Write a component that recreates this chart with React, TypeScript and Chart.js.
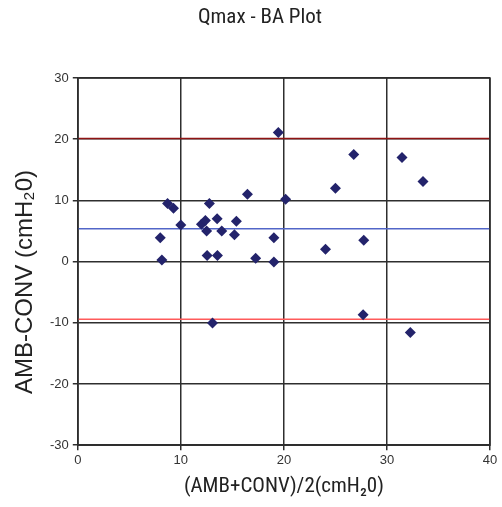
import React, { useEffect, useRef } from "react";
import { Chart, registerables } from "chart.js";

Chart.register(...registerables);

const meanValues = [19.46, 26.78, 31.46, 33.5, 25.0, 16.46, 20.17, 8.71, 9.29, 12.77, 10.0, 12.0, 12.38, 12.5, 13.52, 13.97, 15.39, 15.2, 8.0, 19.03, 8.16, 12.55, 13.55, 17.26, 19.03, 24.04, 27.75, 27.69, 13.07, 32.27];
const diffValues = [21.1, 17.5, 17.0, 13.1, 12.0, 11.0, 10.2, 9.5, 8.7, 9.5, 6.0, 6.1, 6.7, 5.0, 7.0, 5.0, 6.6, 4.4, 3.9, 3.9, 0.25, 1.0, 1.0, 0.55, -0.05, 2.0, 3.5, -8.7, -10.05, -11.6];

const meanDiff = 5.35;
const upperLimit = 20.1;
const lowerLimit = -9.4;
const xRange = [0, 40];
const yRange = [-30, 30];
const tickStep = 10;

const titleText = "Qmax - BA Plot";
const xTitle = "(AMB+CONV)/2(cmH\u20820)";
const yTitle = "AMB-CONV (cmH\u20820)";

const narrow = "'Roboto Condensed', 'Liberation Sans Narrow', 'Liberation Sans', sans-serif";
const arial = "'Liberation Sans', Arial, sans-serif";

export default function App() {
  const ref = useRef<HTMLCanvasElement | null>(null);
  useEffect(() => {
    if (!ref.current) return;
    const line = (v: number, color: string) => ({
      type: "line" as const,
      data: [
        { x: xRange[0], y: v },
        { x: xRange[1], y: v },
      ],
      borderColor: color,
      borderWidth: 1.5,
      pointRadius: 0,
      order: 2,
    });
    const chart = new Chart(ref.current, {
      type: "scatter",
      data: {
        datasets: [
          {
            type: "scatter",
            data: meanValues.map((x, i) => ({ x, y: diffValues[i] })),
            pointStyle: "rectRot",
            pointRadius: 5.5,
            backgroundColor: "#23236b",
            borderColor: "#23236b",
            borderWidth: 0,
            order: 0,
          },
          line(upperLimit, "#8f1414"),
          line(meanDiff, "#5266c8"),
          line(lowerLimit, "#ff5a5a"),
        ] as any,
      },
      options: {
        animation: false,
        responsive: false,
        layout: { padding: { left: 46, right: 12, top: 78, bottom: 8 } },
        plugins: {
          legend: { display: false },
          tooltip: { enabled: false },
          title: { display: false },
        },
        scales: {
          x: {
            type: "linear",
            min: xRange[0],
            max: xRange[1],
            ticks: { stepSize: tickStep, color: "#333", font: { family: arial, size: 13 }, padding: 2 },
            grid: { color: "#2e2e2e", lineWidth: 1.5, tickLength: 5, tickColor: "#2e2e2e" },
            border: { color: "#2e2e2e", width: 1.5 },
            title: { display: true, text: xTitle, color: "#222", font: { family: narrow, size: 21 }, padding: { top: 4, bottom: 0 } },
          },
          y: {
            type: "linear",
            min: yRange[0],
            max: yRange[1],
            ticks: { stepSize: tickStep, color: "#333", font: { family: arial, size: 13 }, padding: 4 },
            grid: { color: "#2e2e2e", lineWidth: 1.5, tickLength: 5, tickColor: "#2e2e2e" },
            border: { color: "#2e2e2e", width: 1.5 },
            title: { display: false },
          },
        },
      } as any,
      plugins: [
        {
          id: "frameAndTitles",
          afterDatasetsDraw(c: any) {
            const { ctx, chartArea } = c;
            ctx.save();
            ctx.strokeStyle = "#2e2e2e";
            ctx.lineWidth = 1.5;
            ctx.strokeRect(chartArea.left, chartArea.top, chartArea.right - chartArea.left, chartArea.bottom - chartArea.top);
            ctx.fillStyle = "#222";
            ctx.textAlign = "center";
            ctx.textBaseline = "middle";
            ctx.font = `21px ${narrow}`;
            ctx.fillText(titleText, 260, 18);
            ctx.translate(25, 282);
            ctx.rotate(-Math.PI / 2);
            ctx.font = `24px ${arial}`;
            ctx.fillText(yTitle, 0, 0);
            ctx.restore();
          },
        },
      ],
    });
    return () => chart.destroy();
  }, []);
  return (
    <div style={{ position: "absolute", left: 0, top: 0, width: 502, height: 507, background: "#fff" }}>
      <canvas ref={ref} width={502} height={507} style={{ width: 502, height: 507 }} />
    </div>
  );
}
